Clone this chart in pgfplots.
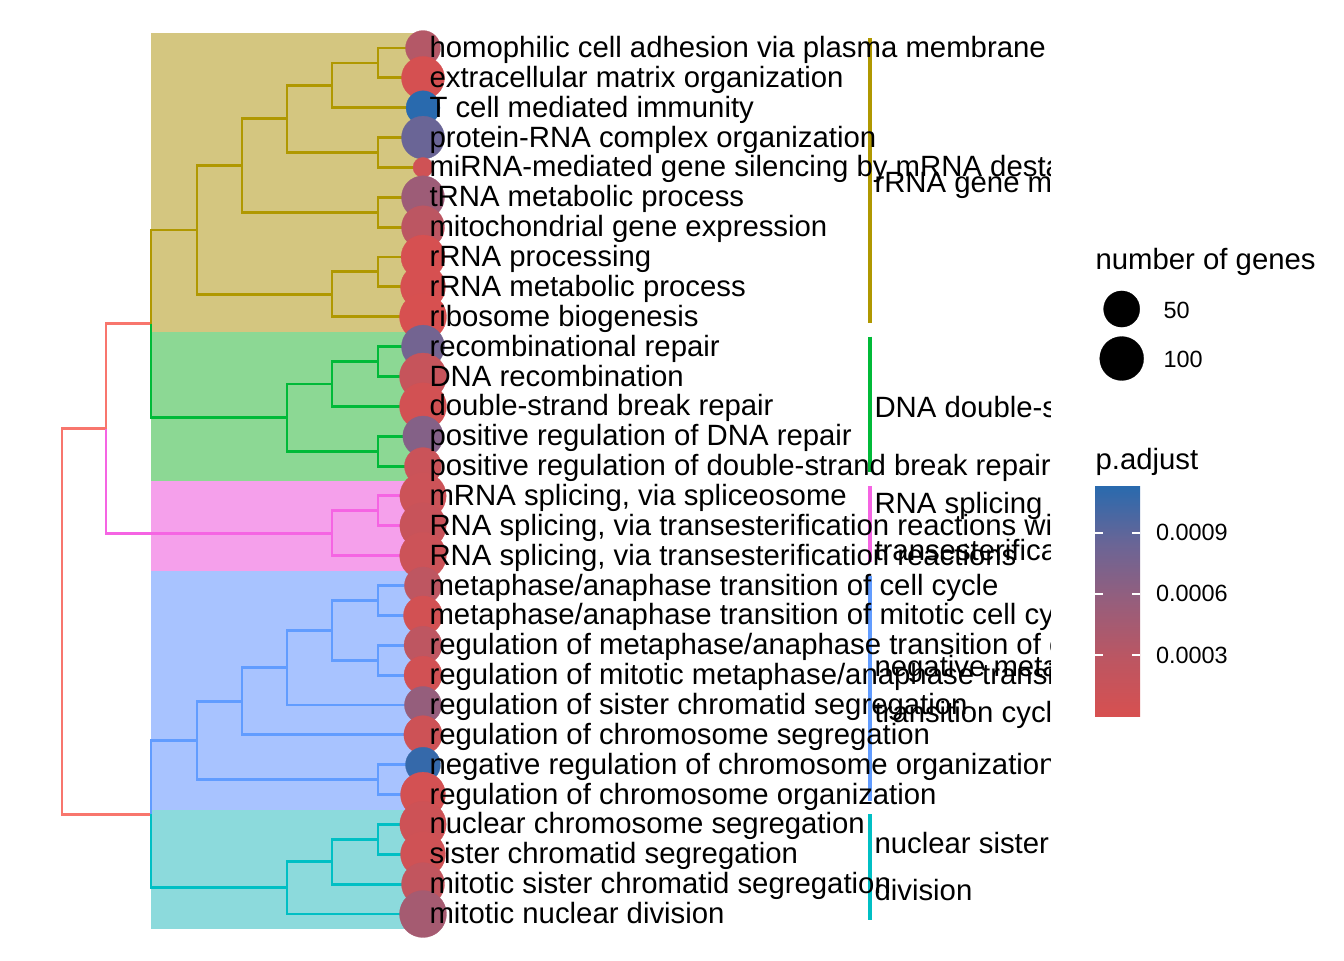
\documentclass[border=0pt]{standalone}
\usepackage{pgfplots}
\pgfplotsset{compat=1.18}
\usepackage{fontspec}
\setmainfont{Liberation Sans}
\definecolor{cRed}{HTML}{F8766D}
\definecolor{cGold}{HTML}{B09800}
\definecolor{cGreen}{HTML}{00BA38}
\definecolor{cTeal}{HTML}{00BFC4}
\definecolor{cBlue}{HTML}{619CFF}
\definecolor{cPink}{HTML}{F564E3}
\definecolor{bGold}{RGB}{212,198,128}
\definecolor{bGreen}{RGB}{140,216,148}
\definecolor{bPink}{RGB}{245,160,235}
\definecolor{bBlue}{RGB}{168,195,255}
\definecolor{bTeal}{RGB}{140,218,220}
\definecolor{s0}{RGB}{215,80,80}
\definecolor{s1}{RGB}{188,86,98}
\definecolor{s2}{RGB}{150,94,124}
\definecolor{s3}{RGB}{106,101,150}
\definecolor{s4}{RGB}{41,106,174}
\pgfdeclareverticalshading{padjshade}{100bp}{color(0bp)=(s0); color(25bp)=(s0); color(37.5bp)=(s1); color(50bp)=(s2); color(62.5bp)=(s3); color(75bp)=(s4); color(100bp)=(s4)}
\pgfplotsset{
  colormap={padj}{rgb255(0cm)=(215,80,80) rgb255(1cm)=(188,86,98) rgb255(2cm)=(150,94,124) rgb255(3cm)=(106,101,150) rgb255(4cm)=(41,106,174)},
  tree/.style={line width=1.1pt, no marks},
  cbar/.style={line width=1.2pt, no marks},
  panel/.style={at={(0pt,0pt)}, anchor=south west, scale only axis,
    width=393.75pt, height=360pt, xmin=0, xmax=1050, ymin=0, ymax=960,
    y dir=reverse, hide axis, clip=true},
}
\newcommand\lf{\fontsize{11}{13}\selectfont}
\newcommand\smallf{\fontsize{8.8}{10}\selectfont}
\tikzset{lab/.style={anchor=base west, inner sep=0pt, font=\lf}}

\pgfplotstableread{
x y n p
423 48.0 44 0.00034
423 77.9 93 0.00002
423 107.7 39 0.00113
423 137.6 93 0.00085
423 167.4 8 0.00008
423 197.3 93 0.00051
423 227.2 93 0.00028
423 257.0 100 0.00001
423 286.9 108 0.00001
423 316.8 125 0.000001
423 346.6 93 0.00079
423 376.5 125 0.00018
423 406.3 125 0.00005
423 436.2 75 0.00068
423 466.1 55 0.00014
423 495.9 120 0.00012
423 525.8 120 0.00016
423 555.7 122 0.00012
423 585.5 55 0.00026
423 615.4 66 0.00005
423 645.2 60 0.00026
423 675.1 60 0.00006
423 705.0 55 0.00057
423 734.8 62 0.0001
423 764.7 44 0.00108
423 794.6 108 0.00004
423 824.4 120 0.0001
423 854.3 108 0.00008
423 884.1 93 0.00022
423 914.0 125 0.00045
}\leaves

\pgfplotstableread{
x y n
1121.7 309 50
1121.7 358.5 100
}\sizeleg

\begin{document}
\begin{tikzpicture}
% ---------------- panel ----------------
\begin{axis}[panel, unbounded coords=jump,
  colormap name=padj, point meta min=0, point meta max=0.00113]
% backgrounds
\addplot[fill=bGold, draw=none] coordinates {(151,33.1) (423,33.1) (423,331.7) (151,331.7)};
\addplot[fill=bGreen, draw=none] coordinates {(151,331.7) (423,331.7) (423,481.0) (151,481.0)};
\addplot[fill=bPink, draw=none] coordinates {(151,481.0) (423,481.0) (423,570.6) (151,570.6)};
\addplot[fill=bBlue, draw=none] coordinates {(151,570.6) (423,570.6) (423,809.5) (151,809.5)};
\addplot[fill=bTeal, draw=none] coordinates {(151,809.5) (423,809.5) (423,928.9) (151,928.9)};
% dendrogram
\addplot[cRed, tree] coordinates {(151,323.8) (106,323.8) (106,428.6) (nan,nan)
 (106,428.6) (62,428.6) (62,814.2) (151,814.2)};
\addplot[cGold, tree] coordinates {
 (423,48.0) (378,48.0) (378,77.9) (423,77.9) (nan,nan)
 (378,63.0) (332,63.0) (332,107.7) (423,107.7) (nan,nan)
 (423,137.6) (378,137.6) (378,167.4) (423,167.4) (nan,nan)
 (332,85.3) (287,85.3) (287,152.5) (378,152.5) (nan,nan)
 (423,197.3) (378,197.3) (378,227.2) (423,227.2) (nan,nan)
 (287,118.9) (242,118.9) (242,212.2) (378,212.2) (nan,nan)
 (423,257.0) (378,257.0) (378,286.9) (423,286.9) (nan,nan)
 (378,271.9) (332,271.9) (332,316.8) (423,316.8) (nan,nan)
 (242,165.6) (197,165.6) (197,294.4) (332,294.4) (nan,nan)
 (197,230.0) (151,230.0) (151,323.8)};
\addplot[cGreen, tree] coordinates {
 (151,323.8) (151,417.6) (287,417.6) (nan,nan)
 (423,346.6) (378,346.6) (378,376.5) (423,376.5) (nan,nan)
 (378,361.6) (332,361.6) (332,406.3) (423,406.3) (nan,nan)
 (423,436.2) (378,436.2) (378,466.1) (423,466.1) (nan,nan)
 (332,384.0) (287,384.0) (287,451.2) (378,451.2)};
\addplot[cPink, tree] coordinates {
 (106,428.6) (106,533.3) (332,533.3) (nan,nan)
 (423,495.9) (378,495.9) (378,525.8) (423,525.8) (nan,nan)
 (378,510.9) (332,510.9) (332,555.7) (423,555.7)};
\addplot[cBlue, tree] coordinates {
 (423,585.5) (378,585.5) (378,615.4) (423,615.4) (nan,nan)
 (423,645.2) (378,645.2) (378,675.1) (423,675.1) (nan,nan)
 (378,600.5) (332,600.5) (332,660.2) (378,660.2) (nan,nan)
 (332,630.3) (287,630.3) (287,705.0) (423,705.0) (nan,nan)
 (287,667.7) (242,667.7) (242,734.8) (423,734.8) (nan,nan)
 (423,764.7) (378,764.7) (378,794.6) (423,794.6) (nan,nan)
 (242,701.2) (197,701.2) (197,779.6) (378,779.6) (nan,nan)
 (197,740.4) (151,740.4) (151,814.2)};
\addplot[cTeal, tree] coordinates {
 (151,814.2) (151,887.9) (287,887.9) (nan,nan)
 (423,824.4) (378,824.4) (378,854.3) (423,854.3) (nan,nan)
 (378,839.4) (332,839.4) (332,884.1) (423,884.1) (nan,nan)
 (332,861.7) (287,861.7) (287,914.0) (423,914.0)};
% dots
\addplot[scatter, only marks, mark=*, point meta=\thisrow{p},
  mark options={line width=0.1pt},
  scatter/use mapped color={draw=mapped color, fill=mapped color},
  visualization depends on={(20+27*sqrt(max(\thisrow{n}-8,0)/117))*0.1875 \as \rad},
  scatter/@pre marker code/.append style={/tikz/mark size=\rad}] table[x=x, y=y] {\leaves};
% cluster bars
\addplot[cGold, cbar] coordinates {(870,38) (870,323)};
\addplot[cGreen, cbar] coordinates {(870,336.6) (870,472)};
\addplot[cPink, cbar] coordinates {(870,486) (870,561.7)};
\addplot[cBlue, cbar] coordinates {(870,575.5) (870,800.6)};
\addplot[cTeal, cbar] coordinates {(870,814.4) (870,920)};
\end{axis}
% ---------------- labels overlay ----------------
\begin{axis}[panel]
\addplot[draw=none, no marks, forget plot] coordinates {(0,0) (1050,960)};
% leaf labels
\node[lab] at (axis cs:429,57.5) {homophilic cell adhesion via plasma membrane adhesion molecules};
\node[lab] at (axis cs:429,87.4) {extracellular matrix organization};
\node[lab] at (axis cs:429,117.2) {T cell mediated immunity};
\node[lab] at (axis cs:429,147.1) {protein-RNA complex organization};
\node[lab] at (axis cs:429,176.9) {miRNA-mediated gene silencing by mRNA destabilization};
\node[lab] at (axis cs:429,206.8) {tRNA metabolic process};
\node[lab] at (axis cs:429,236.7) {mitochondrial gene expression};
\node[lab] at (axis cs:429,266.5) {rRNA processing};
\node[lab] at (axis cs:429,296.4) {rRNA metabolic process};
\node[lab] at (axis cs:429,326.3) {ribosome biogenesis};
\node[lab] at (axis cs:429,356.1) {recombinational repair};
\node[lab] at (axis cs:429,386.0) {DNA recombination};
\node[lab] at (axis cs:429,415.8) {double-strand break repair};
\node[lab] at (axis cs:429,445.7) {positive regulation of DNA repair};
\node[lab] at (axis cs:429,475.6) {positive regulation of double-strand break repair};
\node[lab] at (axis cs:429,505.4) {mRNA splicing, via spliceosome};
\node[lab] at (axis cs:429,535.3) {RNA splicing, via transesterification reactions with bulged adenosine as nucleophile};
\node[lab] at (axis cs:429,565.2) {RNA splicing, via transesterification reactions};
\node[lab] at (axis cs:429,595.0) {metaphase/anaphase transition of cell cycle};
\node[lab] at (axis cs:429,624.9) {metaphase/anaphase transition of mitotic cell cycle};
\node[lab] at (axis cs:429,654.7) {regulation of metaphase/anaphase transition of cell cycle};
\node[lab] at (axis cs:429,684.6) {regulation of mitotic metaphase/anaphase transition};
\node[lab] at (axis cs:429,714.5) {regulation of sister chromatid segregation};
\node[lab] at (axis cs:429,744.3) {regulation of chromosome segregation};
\node[lab] at (axis cs:429,774.2) {negative regulation of chromosome organization};
\node[lab] at (axis cs:429,804.1) {regulation of chromosome organization};
\node[lab] at (axis cs:429,833.9) {nuclear chromosome segregation};
\node[lab] at (axis cs:429,863.8) {sister chromatid segregation};
\node[lab] at (axis cs:429,893.6) {mitotic sister chromatid segregation};
\node[lab] at (axis cs:429,923.5) {mitotic nuclear division};
% cluster labels
\node[lab] at (axis cs:874,192) {rRNA gene mitochondrial};
\node[lab] at (axis cs:874,417) {DNA double-strand};
\node[lab] at (axis cs:874,513) {RNA splicing};
\node[lab] at (axis cs:874,560) {transesterification};
\node[lab] at (axis cs:874,676) {negative metaphase/anaphase};
\node[lab] at (axis cs:874,722) {transition cycle};
\node[lab] at (axis cs:874,853) {nuclear sister};
\node[lab] at (axis cs:874,900) {division};
\end{axis}
% ---------------- legend ----------------
\begin{axis}[at={(393.75pt,0pt)}, anchor=south west, scale only axis,
  width=110.25pt, height=360pt, xmin=1050, xmax=1344, ymin=0, ymax=960,
  y dir=reverse, hide axis, clip=false]
\addplot[scatter, only marks, mark=*, point meta=\thisrow{n},
  mark options={line width=0.1pt},
  scatter/use mapped color={draw=black, fill=black},
  visualization depends on={(20+27*sqrt(max(\thisrow{n}-8,0)/117))*0.1875 \as \rad},
  scatter/@pre marker code/.append style={/tikz/mark size=\rad}] table[x=x, y=y] {\sizeleg};
\node[lab] at (axis cs:1095,269) {number of genes};
\node[anchor=base west, inner sep=0pt, font=\smallf] at (axis cs:1163,318) {50};
\node[anchor=base west, inner sep=0pt, font=\smallf] at (axis cs:1163,367.5) {100};
\node[lab] at (axis cs:1095,469) {p.adjust};
\end{axis}
% ---------------- colorbar ----------------
\begin{axis}[at={(410.625pt,91.5pt)}, anchor=south west, scale only axis,
  width=16.875pt, height=86.25pt, xmin=0, xmax=1, ymin=0, ymax=0.00113,
  axis line style={draw=none}, axis on top, xtick=\empty,
  ytick={0.0003,0.0006,0.0009}, ytick pos=both, yticklabel pos=right,
  tick align=inside, major tick length=3pt,
  tick style={white, line width=0.6pt},
  scaled y ticks=false,
  yticklabel style={/pgf/number format/fixed, /pgf/number format/fixed zerofill,
    /pgf/number format/precision=4, /pgf/number format/assume math mode=true,
    font=\smallf, anchor=west, inner sep=0pt, xshift=5.8pt}]
\addplot[draw=none, no marks, forget plot] coordinates {(0,0) (1,0.00113)};
\shade[shading=padjshade] (axis cs:0,0) rectangle (axis cs:1,0.00113);
\end{axis}
\pgfresetboundingbox
\useasboundingbox (0,0) rectangle (504pt,360pt);
\end{tikzpicture}
\end{document}
